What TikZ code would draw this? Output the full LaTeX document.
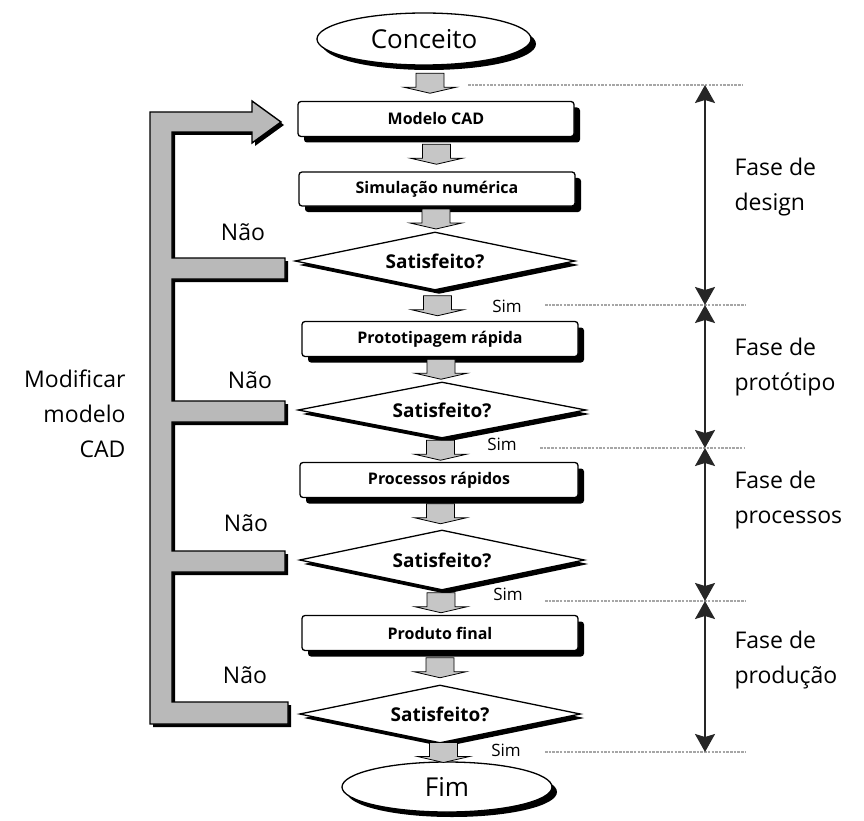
\documentclass[tikz,border=0pt]{standalone}
\usepackage{fontspec}
\setmainfont{Open Sans}
\usetikzlibrary{shapes.geometric,shadows,calc,arrows.meta}
\tikzset{
  shad/.style={drop shadow={shadow xshift=#1, shadow yshift=-#1, fill=black, opacity=1}},
  procbox/.style={draw, line width=1.3pt, rounded corners=3pt, fill=white,
    minimum width=276pt, minimum height=35pt, inner sep=0pt,
    font=\bfseries\fontsize{16}{18}\selectfont, shad=6pt},
  decision/.style={diamond, draw, line width=1.3pt, fill=white, aspect=4.8,
    minimum width=280pt, minimum height=58pt, inner sep=0pt,
    font=\bfseries\fontsize{19}{22}\selectfont, shad=4pt},
  terminal/.style={ellipse, draw, line width=1.3pt, fill=white,
    minimum width=214pt, minimum height=52pt, inner sep=0pt,
    font=\fontsize{26}{30}\selectfont, shad=5pt},
  simlbl/.style={fill=white, inner sep=3pt, font=\fontsize{17}{19}\selectfont},
  naolbl/.style={font=\fontsize{23}{28}\selectfont},
  phaselbl/.style={anchor=west, align=left, font=\fontsize{23}{35}\selectfont},
  dashline/.style={draw=gray!70, line width=1.6pt, dash pattern=on 2.5pt off 1.2pt},
  dimline/.style={draw=black!85, line width=1.8pt,
    {Stealth[width=20pt,length=18pt,inset=3pt]}-{Stealth[width=20pt,length=18pt,inset=3pt]}},
  blockarr/.style={draw=black, line width=0.8pt, fill=gray!45},
}
\newcommand\garrow[2]{\path[blockarr, shift={($(#1)!0.5!(#2)$)}]
  (-14,-10) -- (14,-10) -- (14,4) -- (26,4) -- (0,10) -- (-26,4) -- (-14,4) -- cycle;}
\begin{document}
\begin{tikzpicture}[x=1pt,y=-1pt]
\useasboundingbox (0,0) rectangle (864,821);

% feedback path (gray bar)
\begin{scope}[shift={(3pt,-3pt)}]
\fill[black] (150,724) -- (150,112) -- (252,112) -- (252,101) -- (281,122) -- (252,143) -- (252,132) -- (172,132) -- (172,258) -- (285,258) -- (285,279) -- (172,279) -- (172,401) -- (285,401) -- (285,422) -- (172,422) -- (172,551) -- (285,551) -- (285,572) -- (172,572) -- (172,702) -- (288,702) -- (288,724) -- cycle;
\end{scope}
\draw[line width=1.4pt, fill=gray!55] (150,724) -- (150,112) -- (252,112) -- (252,101) -- (281,122) -- (252,143) -- (252,132) -- (172,132) -- (172,258) -- (285,258) -- (285,279) -- (172,279) -- (172,401) -- (285,401) -- (285,422) -- (172,422) -- (172,551) -- (285,551) -- (285,572) -- (172,572) -- (172,702) -- (288,702) -- (288,724) -- cycle;

% nodes
\node[terminal] (c0) at (424,39) {Conceito};
\node[procbox] (m1) at (436,119) {Modelo CAD};
\node[procbox, minimum height=34pt] (m2) at (437,189) {Simulação numérica};
\node[decision] (q1) at (435,261) {Satisfeito?};
\node[procbox] (m3) at (440,339) {Prototipagem rápida};
\node[decision, minimum width=288pt, minimum height=56pt] (q2) at (442,410) {Satisfeito?};
\node[procbox, minimum width=278pt] (m4) at (439,480) {Processos rápidos};
\node[decision, minimum width=285pt, minimum height=60pt] (q3) at (442,560) {Satisfeito?};
\node[procbox] (m5) at (440,633) {Produto final};
\node[decision, minimum width=281pt] (q4) at (440,714) {Satisfeito?};
\node[terminal, minimum width=210pt, minimum height=50pt] (fim) at (447,787) {Fim};

% block arrows
\garrow{c0.south}{m1.north}
\garrow{m1.south}{m2.north}
\garrow{m2.south}{q1.north}
\garrow{q1.south}{m3.north}
\garrow{m3.south}{q2.north}
\garrow{q2.south}{m4.north}
\garrow{m4.south}{q3.north}
\garrow{q3.south}{m5.north}
\garrow{m5.south}{q4.north}
\garrow{q4.south}{fim.north}

% Sim labels
\node[simlbl] (s1) at (507,306) {Sim};
\node[simlbl] (s2) at (502,444) {Sim};
\node[simlbl] (s3) at (508,594) {Sim};
\node[simlbl] (s4) at (506,750) {Sim};

% Nao labels
\node[naolbl] (n1) at (243,232) {Não};
\node[naolbl] (n2) at (250,380) {Não};
\node[naolbl] (n3) at (246,523) {Não};
\node[naolbl] (n4) at (245,675) {Não};

% left label
\node[anchor=east, align=right, font=\fontsize{23}{35}\selectfont] (mod) at (129,414) {Modificar\\modelo\\CAD};

% phase boundaries
\coordinate (d0) at (705,85);
\coordinate (d1) at (705,305);
\coordinate (d2) at (705,448);
\coordinate (d3) at (705,601);
\coordinate (d4) at (705,752);
\draw[dashline] (468,85) -- (743,85);
\draw[dashline] (545,305) -- (745,305);
\draw[dashline] (540,448) -- (745,448);
\draw[dashline] (545,601) -- (745,601);
\draw[dashline] (545,752) -- (745,752);
\draw[dimline] (d0) -- (d1);
\draw[dimline] (d1) -- (d2);
\draw[dimline] (d2) -- (d3);
\draw[dimline] (d3) -- (d4);

\node[phaselbl] (p1) at (731,187) {Fase de\\design};
\node[phaselbl] (p2) at (731,367) {Fase de\\protótipo};
\node[phaselbl] (p3) at (731,500) {Fase de\\processos};
\node[phaselbl] (p4) at (731,660) {Fase de\\produção};
\end{tikzpicture}
\end{document}
